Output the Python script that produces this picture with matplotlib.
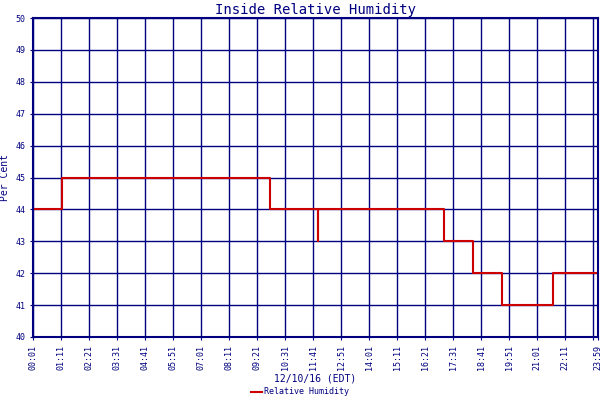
import matplotlib
matplotlib.use("Agg")
import matplotlib.pyplot as plt

# minutes after midnight, humidity value (step, post)
times = [1, 73, 593, 712, 714, 718, 1028, 1101, 1173, 1301, 1440]
humidity = [44, 45, 44, 43, 44, 44, 43, 42, 41, 42, 42]

tick_mins = [1 + 70 * i for i in range(21)]
tick_labels = ["00:01", "01:11", "02:21", "03:31", "04:41", "05:51", "07:01",
               "08:11", "09:21", "10:31", "11:41", "12:51", "14:01", "15:11",
               "16:21", "17:31", "18:41", "19:51", "21:01", "22:11", ""]

navy = "#000080"
plt.rcParams['font.family'] = ['DejaVu Sans Mono']

fig = plt.figure(figsize=(6, 4), dpi=100)
ax = fig.add_axes([33 / 600, 63 / 400, 565 / 600, 319 / 400])
ax.step(times, humidity, where="post", color="#cc0000", lw=1.5, label="Relative Humidity")
ax.set_xlim(1, 1413)
ax.set_ylim(40, 50)
ax.set_yticks(range(40, 51))
ax.set_xticks(tick_mins + [1413])
ax.set_xticklabels(tick_labels + ["23:59"], rotation=90, fontsize=6, color=navy)
ax.tick_params(axis="y", labelsize=6, colors=navy, length=2)
ax.tick_params(axis="x", colors=navy, length=2)
ax.grid(True, color=navy, lw=1)
for s in ax.spines.values():
    s.set_color(navy)
    s.set_linewidth(1.5)
ax.set_title("Inside Relative Humidity", color=navy, fontsize=10, pad=3)
ax.set_ylabel("Per Cent", color=navy, fontsize=7, labelpad=4)
ax.set_xlabel("12/10/16 (EDT)", color=navy, fontsize=7, labelpad=3)
leg = fig.legend(loc="lower center", bbox_to_anchor=(0.5, -0.01), frameon=False,
                 fontsize=6, handlelength=1.3, handletextpad=0.3)
for t in leg.get_texts():
    t.set_color(navy)
fig.savefig("out.png", dpi=100)
